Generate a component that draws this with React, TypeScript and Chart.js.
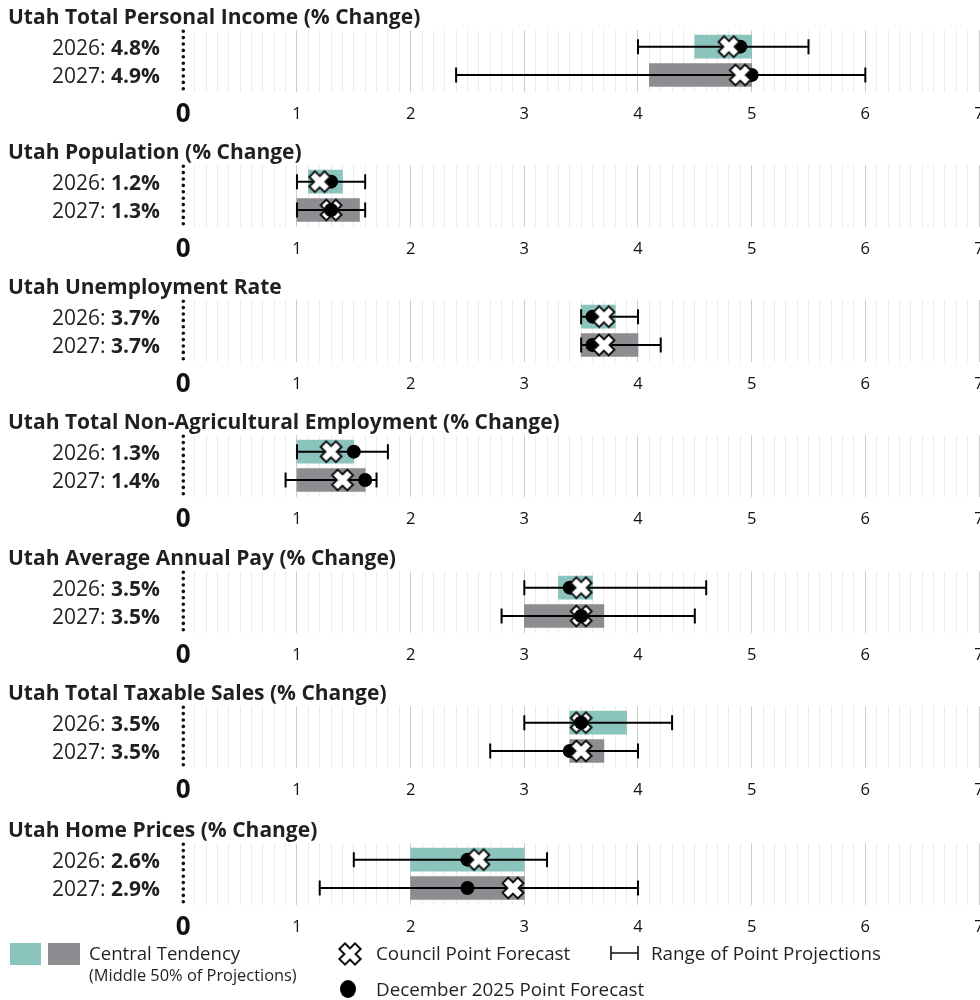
import React, { useEffect, useRef } from "react";
import { Chart, registerables } from "chart.js";

Chart.register(...registerables);

const FONT = "'Open Sans', 'Noto Sans', sans-serif";
const TEXT = "#231f20";
const TEAL = "#8bc3bd";
const GRAY = "#8d8d91";

const panelTitles = [
  "Utah Total Personal Income (% Change)",
  "Utah Population (% Change)",
  "Utah Unemployment Rate",
  "Utah Total Non-Agricultural Employment (% Change)",
  "Utah Average Annual Pay (% Change)",
  "Utah Total Taxable Sales (% Change)",
  "Utah Home Prices (% Change)",
];
const years = ["2026", "2027"];

// Council point forecast
const council2026 = [4.8, 1.2, 3.7, 1.3, 3.5, 3.5, 2.6];
const council2027 = [4.9, 1.3, 3.7, 1.4, 3.5, 3.5, 2.9];
// December 2025 point forecast
const december2026 = [4.9, 1.3, 3.6, 1.5, 3.4, 3.5, 2.5];
const december2027 = [5.0, 1.3, 3.6, 1.6, 3.5, 3.4, 2.5];
// Central tendency (middle 50%)
const centralLow2026 = [4.5, 1.1, 3.5, 1.0, 3.3, 3.4, 2.0];
const centralHigh2026 = [5.0, 1.4, 3.8, 1.5, 3.6, 3.9, 3.0];
const centralLow2027 = [4.1, 1.0, 3.5, 1.0, 3.0, 3.4, 2.0];
const centralHigh2027 = [5.0, 1.55, 4.0, 1.6, 3.7, 3.7, 3.0];
// Range of point projections
const rangeLow2026 = [4.0, 1.0, 3.5, 1.0, 3.0, 3.0, 1.5];
const rangeHigh2026 = [5.5, 1.6, 4.0, 1.8, 4.6, 4.3, 3.2];
const rangeLow2027 = [2.4, 1.0, 3.5, 0.9, 2.8, 2.7, 1.2];
const rangeHigh2027 = [6.0, 1.6, 4.2, 1.7, 4.5, 4.0, 4.0];

const xTickLabels = ["0", "1", "2", "3", "4", "5", "6", "7"];

const panelTops = [0, 135, 270, 405, 541, 676, 813];
const PANEL_H = 136;
const CANVAS_W = 1000;

function makeCross(): HTMLCanvasElement {
  const size = 28;
  const c = document.createElement("canvas");
  c.width = size;
  c.height = size;
  const g = c.getContext("2d")!;
  const m = size / 2;
  const a = 4.8;
  const draw = (w: number, col: string) => {
    g.strokeStyle = col;
    g.lineWidth = w;
    g.lineCap = "square";
    g.beginPath();
    g.moveTo(m - a, m - a);
    g.lineTo(m + a, m + a);
    g.moveTo(m - a, m + a);
    g.lineTo(m + a, m - a);
    g.stroke();
  };
  draw(10, "#111");
  draw(6, "#fff");
  return c;
}

const isInt = (v: number) => Math.abs(v - Math.round(v)) < 1e-6;

function Panel({ idx }: { idx: number }) {
  const ref = useRef<HTMLCanvasElement | null>(null);
  useEffect(() => {
    if (!ref.current) return;
    const cross = makeCross();
    const council = [council2026[idx], council2027[idx]];
    const dec = [december2026[idx], december2027[idx]];
    const decPts = dec.map((v, i) => ({ x: v, y: i }));
    const councilPts = council.map((v, i) => ({ x: v, y: i }));

    const overlay = {
      id: "overlay" + idx,
      beforeDatasetsDraw(chart: any) {
        const ctx = chart.ctx;
        const xs = chart.scales.x;
        const area = chart.chartArea;
        const x0 = xs.getPixelForValue(0);
        ctx.save();
        ctx.strokeStyle = "#111";
        ctx.lineWidth = 3.6;
        ctx.lineCap = "round";
        ctx.setLineDash([0, 6.4]);
        ctx.beginPath();
        ctx.moveTo(x0, area.top + 1);
        ctx.lineTo(x0, area.bottom + 1);
        ctx.stroke();
        ctx.restore();
      },
      afterDraw(chart: any) {
        const ctx = chart.ctx;
        const ys = chart.scales.y;
        ctx.save();
        ctx.fillStyle = TEXT;
        ctx.textBaseline = "alphabetic";
        years.forEach((yr, i) => {
          const y = ys.getPixelForValue(i) + 8.5;
          const bold = council[i].toFixed(1) + "%";
          ctx.font = `bold 21px ${FONT}`;
          const w = ctx.measureText(bold).width;
          ctx.textAlign = "right";
          ctx.fillText(bold, 160, y);
          ctx.font = `21px ${FONT}`;
          ctx.fillText(yr + ": ", 160 - w, y);
        });
        ctx.restore();
      },
    };

    const chart = new Chart(ref.current, {
      type: "bar",
      data: {
        datasets: [
          {
            type: "line",
            label: "December overlay",
            data: decPts,
            showLine: false,
            pointRadius: (c: any) =>
              Math.abs(dec[c.dataIndex] - council[c.dataIndex]) < 1e-6 ? 7 : 0,
            pointBackgroundColor: "#000",
            pointBorderWidth: 0,
            order: 0,
          } as any,
          {
            type: "line",
            label: "Council Point Forecast",
            data: councilPts,
            showLine: false,
            pointStyle: cross,
            pointRadius: 12,
            order: 1,
          } as any,
          {
            type: "line",
            label: "December 2025 Point Forecast",
            data: decPts,
            showLine: false,
            pointRadius: 7,
            pointBackgroundColor: "#000",
            pointBorderWidth: 0,
            order: 2,
          } as any,
          {
            type: "line",
            label: "Range 2026",
            data: [
              { x: rangeLow2026[idx], y: 0 },
              { x: rangeHigh2026[idx], y: 0 },
            ],
            borderColor: "#000",
            borderWidth: 2,
            pointStyle: "line",
            pointRotation: 90,
            pointRadius: 7.5,
            pointBorderWidth: 2,
            pointBorderColor: "#000",
            order: 3,
          } as any,
          {
            type: "line",
            label: "Range 2027",
            data: [
              { x: rangeLow2027[idx], y: 1 },
              { x: rangeHigh2027[idx], y: 1 },
            ],
            borderColor: "#000",
            borderWidth: 2,
            pointStyle: "line",
            pointRotation: 90,
            pointRadius: 7.5,
            pointBorderWidth: 2,
            pointBorderColor: "#000",
            order: 4,
          } as any,
          {
            type: "bar",
            label: "Central Tendency",
            indexAxis: "y",
            data: [
              { x: [centralLow2026[idx], centralHigh2026[idx]], y: 0 },
              { x: [centralLow2027[idx], centralHigh2027[idx]], y: 1 },
            ],
            backgroundColor: [TEAL, GRAY],
            borderWidth: 0,
            barThickness: 23,
            order: 5,
          } as any,
        ],
      },
      options: {
        responsive: false,
        animation: false,
        devicePixelRatio: 1,
        events: [],
        layout: { padding: { left: 8, right: 21, top: 0, bottom: 0 } },
        plugins: {
          legend: { display: false },
          tooltip: { enabled: false },
          title: {
            display: true,
            text: panelTitles[idx],
            align: "start",
            color: TEXT,
            font: { family: FONT, size: 21, weight: "bold", lineHeight: 1.2 },
            padding: { top: 5, bottom: 0 },
          },
        },
        scales: {
          x: {
            type: "linear",
            position: "bottom",
            min: 0,
            max: 7,
            offset: false,
            beginAtZero: false,
            grace: 0,
            border: { display: false },
            grid: {
              offset: false,
              drawTicks: false,
              lineWidth: 1,
              color: (c: any) => {
                const v = c.tick ? c.tick.value : 0;
                if (Math.abs(v) < 1e-6) return "rgba(0,0,0,0)";
                return isInt(v) ? "#cccccc" : "#ebebeb";
              },
            },
            ticks: {
              stepSize: 0.1,
              autoSkip: false,
              maxRotation: 0,
              minRotation: 0,
              padding: 10,
              color: "#111",
              font: (c: any) => {
                const v = c.tick ? c.tick.value : 1;
                return Math.abs(v) < 1e-6
                  ? { family: FONT, size: 26, weight: "bold", lineHeight: "25px" }
                  : { family: FONT, size: 16.5, weight: "normal", lineHeight: "24px" };
              },
              callback: (v: any) => {
                const n = Number(v);
                return isInt(n) ? xTickLabels[Math.round(n)] : "";
              },
            },
            afterFit: (s: any) => {
              s.height = 44;
              s.paddingLeft = 0;
              s.paddingRight = 0;
            },
          },
          y: {
            type: "linear",
            min: -0.58,
            max: 1.6,
            reverse: true,
            offset: false,
            beginAtZero: false,
            grace: 0,
            display: true,
            grid: { display: false, offset: false },
            border: { display: false },
            ticks: { display: false },
            afterFit: (s: any) => {
              s.width = 175.3;
            },
          },
        },
      } as any,
      plugins: [overlay],
    });
    return () => chart.destroy();
  }, [idx]);
  return (
    <div
      style={{
        position: "absolute",
        left: 0,
        top: panelTops[idx],
        width: CANVAS_W,
        height: PANEL_H,
      }}
    >
      <canvas ref={ref} width={CANVAS_W} height={PANEL_H} style={{ display: "block" }} />
    </div>
  );
}

const txt: React.CSSProperties = {
  position: "absolute",
  fontFamily: FONT,
  color: TEXT,
  whiteSpace: "nowrap",
};

export default function App() {
  return (
    <div
      style={{
        position: "absolute",
        left: 0,
        top: 0,
        width: 980,
        height: 1000,
        overflow: "hidden",
        background: "#fff",
      }}
    >
      {panelTitles.map((_, i) => (
        <Panel key={i} idx={i} />
      ))}
      {/* Legend */}
      <div style={{ position: "absolute", left: 10, top: 943, width: 31, height: 22, background: TEAL }} />
      <div style={{ position: "absolute", left: 48, top: 943, width: 32, height: 22, background: GRAY }} />
      <div style={{ ...txt, left: 89, top: 940, fontSize: 18.6, lineHeight: "26px" }}>Central Tendency</div>
      <div style={{ ...txt, left: 89, top: 964, fontSize: 16.4, lineHeight: "22px" }}>
        (Middle 50% of Projections)
      </div>
      <svg style={{ position: "absolute", left: 336, top: 940 }} width={28} height={28}>
        <g strokeLinecap="square">
          <path d="M9 9 L19 19 M9 19 L19 9" stroke="#111" strokeWidth={10} />
          <path d="M9 9 L19 19 M9 19 L19 9" stroke="#fff" strokeWidth={6} />
        </g>
      </svg>
      <div style={{ ...txt, left: 376, top: 940, fontSize: 18.8, lineHeight: "26px" }}>Council Point Forecast</div>
      <svg style={{ position: "absolute", left: 610, top: 945 }} width={30} height={16}>
        <path d="M1 1 V15 M1 8 H28 M28 1 V15" stroke="#111" strokeWidth={1.6} fill="none" />
      </svg>
      <div style={{ ...txt, left: 651, top: 940, fontSize: 18.8, lineHeight: "26px" }}>
        Range of Point Projections
      </div>
      <svg style={{ position: "absolute", left: 339, top: 979 }} width={18} height={20}>
        <ellipse cx={9} cy={10} rx={8} ry={9} fill="#000" />
      </svg>
      <div style={{ ...txt, left: 376, top: 976, fontSize: 18.8, lineHeight: "26px" }}>
        December 2025 Point Forecast
      </div>
    </div>
  );
}
